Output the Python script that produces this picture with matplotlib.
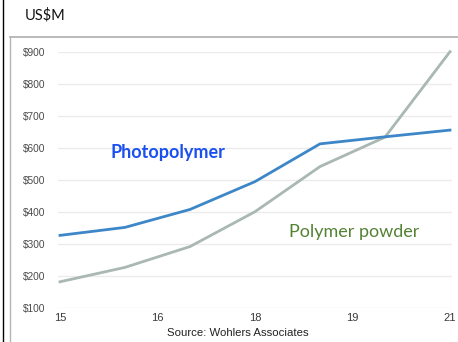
import numpy as np
import matplotlib.pyplot as plt
from matplotlib.lines import Line2D

# market size by year, US$ millions
years = [2015, 2016, 2017, 2018, 2019, 2020, 2021]
photopolymer = [326, 351, 407, 494, 612, 634, 655]
polymer_powder = [181, 226, 291, 400, 541, 633, 900]

tick_pos = [0, 1.5, 3, 4.5, 6]
tick_labels = ['15', '16', '18', '19', '21']
y_ticks = [100, 200, 300, 400, 500, 600, 700, 800, 900]

W, H = 458, 342
fig = plt.figure(figsize=(W / 100, H / 100), dpi=100)
fig.patch.set_facecolor('white')

ax = fig.add_axes([58 / W, 1 - 307.7 / H, (452 - 58) / W, (307.7 - 51.7) / H])
x = np.arange(len(years))

ax.plot(x, polymer_powder, color='#a9b8b1', lw=2, clip_on=False, solid_joinstyle='miter')
ax.plot(x, photopolymer, color='#3d87c8', lw=2, clip_on=False, solid_joinstyle='miter')

ax.set_xlim(-2 / 65, 6 + 2 / 65)
ax.set_ylim(100, 900)
ax.set_yticks(y_ticks)
ax.set_yticklabels(['$%d' % v for v in y_ticks], fontsize=7.3, color='#4a4a4a',
                   family='Liberation Sans')
ax.set_xticks(tick_pos)
ax.set_xticklabels(tick_labels, fontsize=8, color='#3a3a3a', family='Liberation Sans')
ax.tick_params(length=0, axis='y', pad=9)
ax.tick_params(length=0, axis='x', pad=4)
ax.grid(axis='y', color='#ebebeb', lw=1)
ax.set_axisbelow(True)
for s in ax.spines.values():
    s.set_visible(False)

ax.text(0.77, 584, 'Photopolymer', color='#1a4ff0', fontsize=13,
        fontweight='bold', family='Lato', va='center')
ax.text(3.53, 338, 'Polymer powder', color='#548235', fontsize=13,
        family='Lato', va='center')

fig.text(238 / W, 1 - 333.3 / H, 'Source: Wohlers Associates', ha='center',
         va='center', fontsize=8.2, color='#222222', family='Liberation Sans')
fig.text(25 / W, 1 - 15 / H, 'US$M', ha='left', va='center', fontsize=10.5,
         color='#111111', family='Lato')

# frame lines around the chart
fig.add_artist(Line2D([3 / W, 3 / W], [0, 1], color='black', lw=1))
fig.add_artist(Line2D([9.5 / W, 9.5 / W], [0, 1 - 37 / H], color='#b4b4b4', lw=1))
fig.add_artist(Line2D([9.5 / W, 1], [1 - 37 / H, 1 - 37 / H], color='#b4b4b4', lw=1.3))

fig.savefig('out.png', dpi=100)
